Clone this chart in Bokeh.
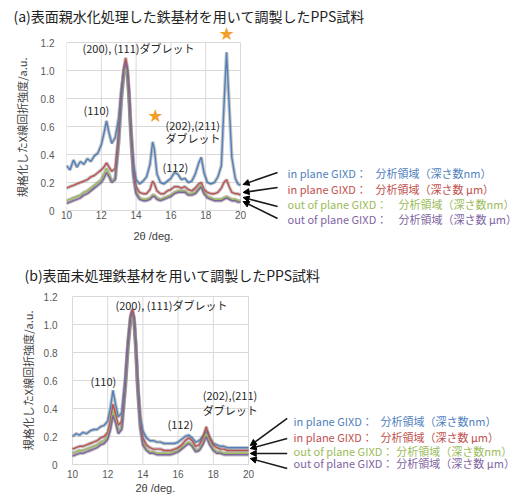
from bokeh.plotting import figure
from bokeh.models import Label, Arrow, NormalHead, FixedTicker, CustomJSTickFormatter, Range1d, Title, Spacer
from bokeh.layouts import column
from bokeh.embed import file_html
from bokeh.resources import INLINE

# ---------------- data ----------------
x_ticks = [10, 12, 14, 16, 18, 20]
y_ticks = [0, 0.2, 0.4, 0.6, 0.8, 1.0, 1.2]

# panel (a)
xa = [10.0, 10.2, 10.4, 10.6, 10.8, 11.0, 11.2, 11.4, 11.6, 11.8,
      12.0, 12.15, 12.3, 12.45, 12.6, 12.8, 13.0, 13.15, 13.3, 13.4,
      13.5, 13.6, 13.7, 13.85, 14.0, 14.2, 14.4, 14.6, 14.8, 14.95,
      15.05, 15.2, 15.4, 15.6, 15.8, 16.0, 16.2, 16.4, 16.6, 16.8,
      17.0, 17.2, 17.4, 17.6, 17.75, 17.9, 18.1, 18.3, 18.5, 18.7,
      18.9, 19.05, 19.2, 19.35, 19.5, 19.7, 19.85, 20.0]
a_in_nm = [0.32, 0.29, 0.36, 0.31, 0.35, 0.33, 0.37, 0.35, 0.39, 0.41,
           0.47, 0.55, 0.64, 0.55, 0.48, 0.52, 0.66, 0.86, 1.00, 1.04,
           0.98, 0.82, 0.60, 0.33, 0.22, 0.19, 0.21, 0.24, 0.33, 0.49,
           0.44, 0.26, 0.20, 0.19, 0.21, 0.23, 0.27, 0.26, 0.22, 0.23,
           0.20, 0.21, 0.26, 0.34, 0.38, 0.27, 0.20, 0.19, 0.20, 0.24,
           0.32, 0.75, 1.13, 0.75, 0.38, 0.23, 0.19, 0.18]
a_in_um = [0.16, 0.17, 0.18, 0.19, 0.20, 0.21, 0.22, 0.24, 0.25, 0.27,
           0.29, 0.31, 0.34, 0.31, 0.28, 0.30, 0.55, 0.82, 1.02, 1.09,
           1.02, 0.84, 0.58, 0.28, 0.17, 0.13, 0.12, 0.12, 0.15, 0.21,
           0.19, 0.14, 0.12, 0.12, 0.14, 0.15, 0.17, 0.17, 0.16, 0.17,
           0.15, 0.14, 0.16, 0.19, 0.20, 0.15, 0.13, 0.12, 0.12, 0.13,
           0.16, 0.20, 0.22, 0.17, 0.13, 0.12, 0.12, 0.11]
a_out_nm = [0.07, 0.08, 0.09, 0.10, 0.11, 0.13, 0.14, 0.16, 0.18, 0.20,
            0.22, 0.26, 0.30, 0.26, 0.21, 0.23, 0.48, 0.77, 0.97, 1.03,
            0.96, 0.78, 0.52, 0.24, 0.13, 0.09, 0.08, 0.08, 0.09, 0.11,
            0.11, 0.09, 0.08, 0.09, 0.10, 0.11, 0.13, 0.14, 0.14, 0.14,
            0.12, 0.12, 0.13, 0.16, 0.18, 0.13, 0.10, 0.09, 0.08, 0.08,
            0.08, 0.09, 0.10, 0.09, 0.08, 0.08, 0.07, 0.07]
a_out_um = [0.05, 0.06, 0.07, 0.08, 0.09, 0.11, 0.12, 0.14, 0.16, 0.18,
            0.20, 0.23, 0.27, 0.24, 0.20, 0.22, 0.50, 0.80, 1.00, 1.06,
            0.99, 0.80, 0.54, 0.25, 0.12, 0.08, 0.07, 0.07, 0.08, 0.10,
            0.10, 0.08, 0.07, 0.08, 0.09, 0.10, 0.12, 0.13, 0.13, 0.13,
            0.11, 0.11, 0.12, 0.15, 0.17, 0.12, 0.09, 0.08, 0.07, 0.07,
            0.07, 0.08, 0.09, 0.08, 0.07, 0.07, 0.06, 0.06]

# panel (b)
xb = [10.0, 10.2, 10.4, 10.6, 10.8, 11.0, 11.2, 11.4, 11.6, 11.8,
      12.0, 12.15, 12.3, 12.45, 12.6, 12.8, 13.0, 13.15, 13.3, 13.4,
      13.5, 13.6, 13.7, 13.85, 14.0, 14.2, 14.4, 14.6, 14.8, 15.0,
      15.2, 15.4, 15.6, 15.8, 16.0, 16.2, 16.4, 16.6, 16.8, 17.0,
      17.2, 17.4, 17.6, 17.8, 18.0, 18.2, 18.4, 18.6, 18.8, 19.0,
      19.2, 19.4, 19.6, 19.8, 20.0]
b_in_nm = [0.20, 0.22, 0.21, 0.23, 0.22, 0.24, 0.25, 0.25, 0.27, 0.28,
           0.31, 0.40, 0.53, 0.43, 0.34, 0.37, 0.62, 0.88, 1.06, 1.10,
           1.04, 0.86, 0.60, 0.34, 0.24, 0.19, 0.17, 0.17, 0.16, 0.16,
           0.15, 0.15, 0.15, 0.15, 0.16, 0.18, 0.20, 0.21, 0.19, 0.16,
           0.17, 0.20, 0.24, 0.19, 0.15, 0.14, 0.13, 0.13, 0.12, 0.12,
           0.12, 0.12, 0.12, 0.12, 0.12]
b_in_um = [0.11, 0.12, 0.13, 0.13, 0.14, 0.15, 0.16, 0.17, 0.19, 0.20,
           0.23, 0.31, 0.43, 0.36, 0.28, 0.31, 0.58, 0.86, 1.06, 1.11,
           1.05, 0.85, 0.58, 0.30, 0.19, 0.14, 0.12, 0.11, 0.11, 0.11,
           0.10, 0.10, 0.10, 0.11, 0.12, 0.14, 0.17, 0.19, 0.17, 0.13,
           0.14, 0.19, 0.27, 0.19, 0.14, 0.12, 0.11, 0.11, 0.10, 0.10,
           0.10, 0.10, 0.10, 0.10, 0.10]
b_out_nm = [0.08, 0.09, 0.10, 0.10, 0.11, 0.12, 0.13, 0.14, 0.16, 0.17,
            0.20, 0.27, 0.38, 0.32, 0.24, 0.27, 0.54, 0.82, 1.02, 1.07,
            1.01, 0.81, 0.54, 0.26, 0.15, 0.11, 0.09, 0.09, 0.08, 0.08,
            0.08, 0.08, 0.08, 0.09, 0.10, 0.12, 0.14, 0.16, 0.14, 0.10,
            0.11, 0.15, 0.22, 0.15, 0.11, 0.09, 0.09, 0.08, 0.08, 0.08,
            0.08, 0.08, 0.08, 0.08, 0.08]
b_out_um = [0.06, 0.07, 0.08, 0.08, 0.09, 0.10, 0.11, 0.12, 0.14, 0.15,
            0.18, 0.25, 0.35, 0.30, 0.22, 0.25, 0.55, 0.84, 1.04, 1.09,
            1.03, 0.83, 0.56, 0.27, 0.14, 0.10, 0.08, 0.08, 0.07, 0.07,
            0.07, 0.07, 0.07, 0.08, 0.09, 0.11, 0.13, 0.15, 0.13, 0.09,
            0.10, 0.14, 0.20, 0.14, 0.10, 0.08, 0.08, 0.07, 0.07, 0.07,
            0.07, 0.07, 0.07, 0.07, 0.07]

legend_prefix = ["in plane GIXD：", "in plane GIXD：", "out of plane GIXD：", "out of plane GIXD："]
legend_suffix = ["分析領域（深さ数nm）", "分析領域（深さ数 μm）", "分析領域（深さ数nm）", "分析領域（深さ数 μm）"]
title_a = "(a)表面親水化処理した鉄基材を用いて調製したPPS試料"
title_b = "(b)表面未処理鉄基材を用いて調製したPPS試料"
y_label = "規格化したX線回折強度/a.u."
x_label = "2θ /deg."
doublet_main = "(200), (111)ダブレット"

# ---------------- style / layout ----------------
COLORS = ["#4F81BD", "#C0504D", "#9BBB59", "#8064A2"]
JP = "Noto Sans CJK JP"
LAT = "Liberation Sans"
FRAME_L, PAGE_R = 66, 520     # every frame spans page x 66..520


def xr(page, g):
    return 10 + (page - g["x0"]) / g["sx"]


def yr(page, g):
    return (g["y0"] - page) / g["sy"]


def make_plot(g, ftop, fbottom, border_bottom, title, title_off, x, series, annotations, stars,
              ptr_start, ptr_end, leg_x, leg_x2, leg_y, ylab_standoff, ytick_standoff,
              xtick_standoff, xlab_off):
    p = figure(frame_width=PAGE_R - FRAME_L, frame_height=fbottom - ftop,
               output_backend="svg", toolbar_location=None, title=None,
               x_range=Range1d(xr(FRAME_L, g), xr(PAGE_R, g)),
               y_range=Range1d(yr(fbottom, g), yr(ftop, g)),
               min_border_left=FRAME_L, min_border_right=0,
               min_border_top=0, min_border_bottom=border_bottom)
    p.outline_line_color = None
    p.xgrid.visible = False
    p.ygrid.visible = False

    p.add_layout(Title(text=title, align="left", offset=title_off, standoff=0,
                       vertical_align="middle", text_font=JP, text_font_size="14px",
                       text_font_style="normal", text_color="#222222"), "above")

    p.xaxis.ticker = FixedTicker(ticks=x_ticks)
    p.yaxis.ticker = FixedTicker(ticks=y_ticks)
    p.yaxis.formatter = CustomJSTickFormatter(code="return tick == 0 ? '0' : tick.toFixed(1);")
    for ax in (p.xaxis, p.yaxis):
        ax.axis_line_color = None
        ax.major_tick_line_color = None
        ax.minor_tick_line_color = None
        ax.major_tick_out = 0
        ax.major_tick_in = 0
        ax.major_label_text_font = LAT
        ax.major_label_text_font_size = "10px"
        ax.major_label_text_color = "#595959"
    p.yaxis.axis_label = y_label
    p.yaxis.axis_label_text_font = JP
    p.yaxis.axis_label_text_font_size = "11px"
    p.yaxis.axis_label_text_font_style = "normal"
    p.yaxis.axis_label_text_color = "#404040"
    p.xaxis.major_label_standoff = xtick_standoff
    p.yaxis.major_label_standoff = ytick_standoff
    p.yaxis.axis_label_standoff = ylab_standoff
    # x-axis title sits under the 10..20 span, not under the whole frame
    p.add_layout(Title(text=x_label, align="left", offset=xlab_off, standoff=0,
                       vertical_align="middle", text_font=LAT, text_font_size="11px",
                       text_font_style="normal", text_color="#404040"), "below")

    # gridlines drawn at the tick values, limited to the plotted area
    n = len(x_ticks)
    m = len(y_ticks)
    p.segment(x0=x_ticks, y0=[y_ticks[0]] * n, x1=x_ticks, y1=[y_ticks[-1]] * n,
              line_color="#d9d9d9", line_width=1)
    p.segment(x0=[x_ticks[0]] * m, y0=y_ticks, x1=[x_ticks[-1]] * m, y1=y_ticks,
              line_color="#d9d9d9", line_width=1)

    # curves: soft gray shadow + coloured line
    for ys in series:
        p.line(x, ys, line_color="#7f7f7f", line_alpha=0.45, line_width=3.5)
    for ys, c in zip(series, COLORS):
        p.line(x, ys, line_color=c, line_width=1.4)

    for tx, ax_, ay_ in annotations:
        p.add_layout(Label(x=ax_, y=ay_, text=tx, text_font=JP, text_font_size="11px",
                           text_color="#262626", text_align="left", text_baseline="middle"))
    for sx, sy, fs in stars:
        p.add_layout(Label(x=sx, y=sy, text="★", text_font="DejaVu Sans", text_font_size=fs,
                           text_color="#F0A028", text_align="center", text_baseline="middle"))
    for (x0, y0), (x1, y1) in zip(ptr_start, ptr_end):
        p.add_layout(Arrow(x_start=x0, y_start=y0, x_end=x1, y_end=y1,
                           start=NormalHead(size=6, fill_color="black", line_color="black"),
                           end=None, line_color="#1a1a1a", line_width=1.6))
    for i in range(4):
        p.add_layout(Label(x=leg_x, y=leg_y[i], text=legend_prefix[i], text_font=JP,
                           text_font_size="11px", text_color=COLORS[i],
                           text_align="left", text_baseline="middle"))
        p.add_layout(Label(x=leg_x2[i], y=leg_y[i], text=legend_suffix[i], text_font=JP,
                           text_font_size="11px", text_color=COLORS[i],
                           text_align="left", text_baseline="middle"))
    return p


GA = dict(x0=66, sx=17.4, y0=211, sy=140)
GB = dict(x0=72, sx=17.6, y0=466, sy=140)

pA = make_plot(
    GA, 27, 229, 35, title_a, 13 - FRAME_L, xa, [a_in_nm, a_in_um, a_out_nm, a_out_um],
    [(doublet_main, 10.92, 1.16), ("(110)", 10.98, 0.72), ("(202),(211)", 15.69, 0.61),
     ("ダブレット", 15.69, 0.52), ("(112)", 15.52, 0.31)],
    [(15.1, 0.68, "18px"), (19.2, 1.265, "18px")],
    [(20.15, 0.186), (20.15, 0.129), (20.15, 0.093), (20.15, 0.064)],
    [(22.13, 0.271), (22.13, 0.164), (22.13, 0.029), (22.13, -0.057)],
    22.7, [27.76, 27.76, 29.08, 29.08], [0.271, 0.157, 0.043, -0.064],
    8, 12, -18, 133 - FRAME_L)

pB = make_plot(
    GB, 287, 477, 0, title_b, 24 - FRAME_L, xb, [b_in_nm, b_in_um, b_out_nm, b_out_um],
    [(doublet_main, 12.44, 1.14), ("(110)", 11.02, 0.6), ("(202),(211)", 17.4, 0.5),
     ("ダブレット", 17.4, 0.39), ("(112)", 15.4, 0.29)],
    [],
    [(20.1, 0.136), (20.1, 0.114), (20.1, 0.079), (20.1, 0.043)],
    [(22.2, 0.329), (22.2, 0.186), (22.2, 0.079), (22.2, -0.029)],
    22.56, [27.5, 27.5, 28.4, 28.4], [0.314, 0.2, 0.1, 0.012],
    5, 9, -6, 135 - FRAME_L)

layout = column(Spacer(width=PAGE_R, height=4), pA, pB)
open("out.html", "w").write(file_html(layout, INLINE))
